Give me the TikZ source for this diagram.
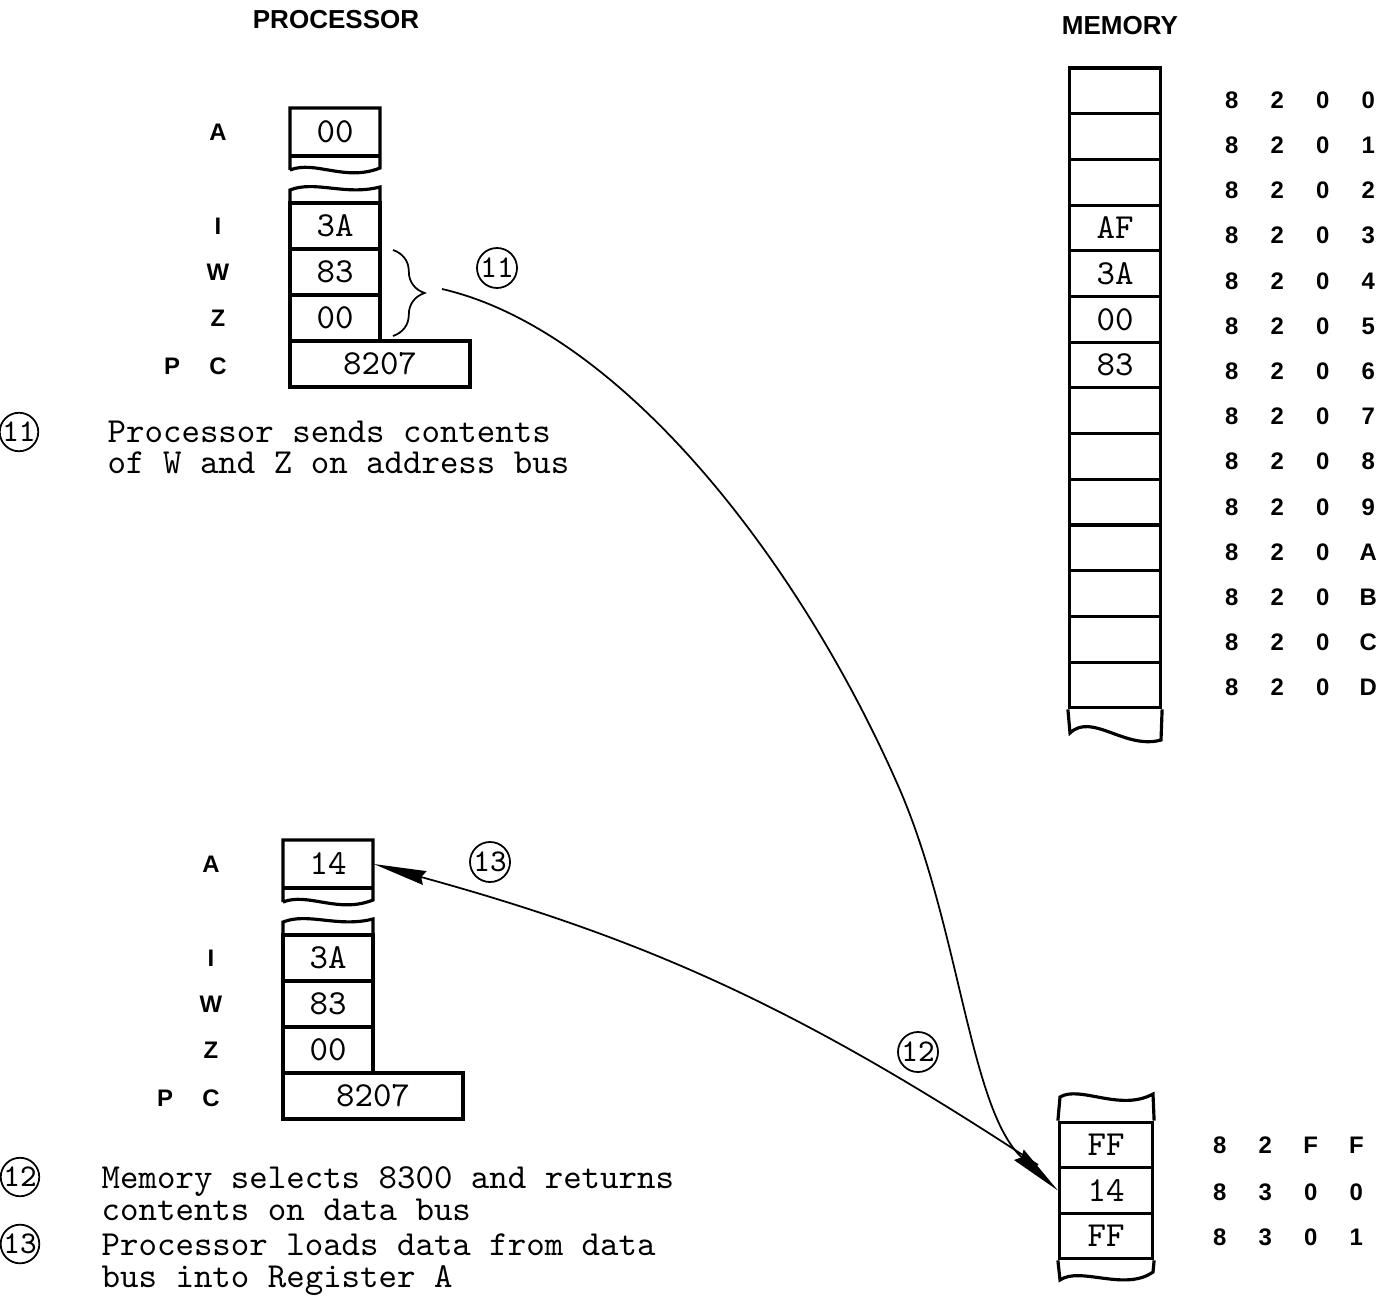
\documentclass[tikz,border=0pt]{standalone}
\usepackage{fontspec}
\newfontfamily\sansf{Liberation Sans}
\usetikzlibrary{arrows.meta,decorations.pathreplacing}

\newcommand{\addrrow}[4]{\makebox[0.455cm]{#1}\makebox[0.455cm]{#2}\makebox[0.455cm]{#3}\makebox[0.455cm]{#4}}

\tikzset{
  reg/.style={line width=0.9pt},
  regcell/.style={draw, line width=0.9pt, minimum width=0.9cm, minimum height=0.46cm, inner sep=0pt, font=\ttfamily\fontsize{10pt}{11pt}\selectfont},
  regval/.style={minimum width=0.9cm, minimum height=0.46cm, inner sep=0pt, font=\ttfamily\fontsize{10pt}{11pt}\selectfont},
  reglbl/.style={inner sep=0pt, font=\sansf\bfseries\fontsize{6.8pt}{8pt}\selectfont},
  addr/.style={inner sep=0pt, font=\sansf\bfseries\fontsize{6.8pt}{8pt}\selectfont},
  headtxt/.style={font=\sansf\bfseries\fontsize{7.4pt}{9pt}\selectfont},
  stepnum/.style={draw, circle, line width=0.5pt, inner sep=0pt, minimum size=0.4cm, font=\ttfamily\fontsize{9pt}{10pt}\selectfont},
  notetxt/.style={anchor=north west, align=left, inner sep=0pt, font=\ttfamily\fontsize{10pt}{9pt}\selectfont},
  bus/.style={line width=0.5pt},
}

\begin{document}
\begin{tikzpicture}[x=0.01cm,y=-0.01cm,>={Stealth[length=15pt,width=4pt,inset=1pt]}]
\useasboundingbox (0,0) rectangle (1391,1297);

\node[headtxt] (proc) at (336,20) {PROCESSOR};
\node[headtxt] (mem) at (1120,26) {MEMORY};

% === Processor registers, before and after ===
\foreach \blk/\dx/\dy/\aval in {t/0/0/00, b/-7/732/14} {
  \begin{scope}[shift={(\dx,\dy)}]
    % register A, cut off below
    \draw[reg] (290,170) -- (290,108) -- (380,108) -- (380,168)
       .. controls (345,182) and (315,160) .. (290,170);
    \draw[reg] (290,156) -- (380,156);
    \node[regval] (\blk A) at (335,132) {\aval};
    \node[reglbl] (\blk lblA) at (218,132) {A};
    % top of the cut register file
    \draw[reg] (290,203) -- (290,190) .. controls (315,180) and (345,196) .. (380,187) -- (380,203);
    \foreach \r/\v/\y in {I/3A/226, W/83/272, Z/00/318} {
      \node[regcell] (\blk\r) at (335,\y) {\v};
      \node[reglbl] (\blk lbl\r) at (218,\y) {\r};
    }
    \node[regcell, minimum width=1.8cm] (\blk PC) at (380,364) {8207};
    \node[reglbl] (\blk lblP) at (172,366) {P};
    \node[reglbl] (\blk lblC) at (218,366) {C};
  \end{scope}
}

% brace over W and Z
\draw[bus, decorate, decoration={brace, amplitude=9pt}] (393,250) -- (393,336);
\coordinate (bus11) at (442,289);
\node[stepnum] (c11) at (497,268) {11};

% === Memory, 8200 to 820D ===
\foreach \r/\v in {0/{},1/{},2/{},3/AF,4/3A,5/00,6/83,7/{},8/{},9/{},10/{},11/{},12/{},13/{}} {
  \node[regcell, minimum width=0.91cm, minimum height=0.457cm] (m\r) at (1115,{90.85+45.7*\r}) {\v};
}
\draw[reg] (m13.south west) -- (1070,733) .. controls (1092,712) and (1125,750) .. (1161,740) -- (m13.south east);
\foreach \r/\d in {0/0,1/1,2/2,3/3,4/4,5/5,6/6,7/7,8/8,9/9,10/A,11/B,12/C,13/D} {
  \node[addr] (a820\d) at (1300,{100+45.2*\r}) {\addrrow{8}{2}{0}{\d}};
}

% === Memory, 82FF to 8301 ===
\node[regcell, minimum width=0.93cm, minimum height=0.455cm] (m82FF) at (1106,1145) {FF};
\node[regcell, minimum width=0.93cm, minimum height=0.455cm] (m8300) at (1106,1190.5) {14};
\node[regcell, minimum width=0.93cm, minimum height=0.455cm] (m8301) at (1106,1236) {FF};
\draw[reg] (m82FF.north west) -- (1060,1097) .. controls (1080,1085) and (1120,1112) .. (1153,1094) -- (m82FF.north east);
\draw[reg] (m8301.south west) -- (1060,1280) .. controls (1080,1266) and (1125,1292) .. (1153,1272) -- (m8301.south east);
\node[addr] (a82FF) at (1288,1145) {\addrrow{8}{2}{F}{F}};
\node[addr] (a8300) at (1288,1192) {\addrrow{8}{3}{0}{0}};
\node[addr] (a8301) at (1288,1237) {\addrrow{8}{3}{0}{1}};

% === Bus transfers ===
\draw[bus,->] (bus11) .. controls (620,330) and (800,560) .. (900,790)
   .. controls (960,930) and (970,1110) .. (m8300.west);
\coordinate (bus13) at (1038,1165);
\draw[bus,->] (bus13) to[bend right=9] (bA.east);
\node[stepnum] (c12) at (918,1052) {12};
\node[stepnum] (c13) at (490,862) {13};

% === Notes ===
\node[stepnum, minimum size=0.35cm] (c11n) at (19,432) {11};
\node[notetxt] (t11) at (107,420) {Processor sends contents\\of W and Z on address bus};
\node[stepnum, minimum size=0.35cm] (c12n) at (20,1177) {12};
\node[notetxt] (t12) at (101,1166) {Memory selects 8300 and returns\\contents on data bus};
\node[stepnum, minimum size=0.35cm] (c13n) at (20,1244) {13};
\node[notetxt] (t13) at (101,1233) {Processor loads data from data\\bus into Register A};
\end{tikzpicture}
\end{document}
